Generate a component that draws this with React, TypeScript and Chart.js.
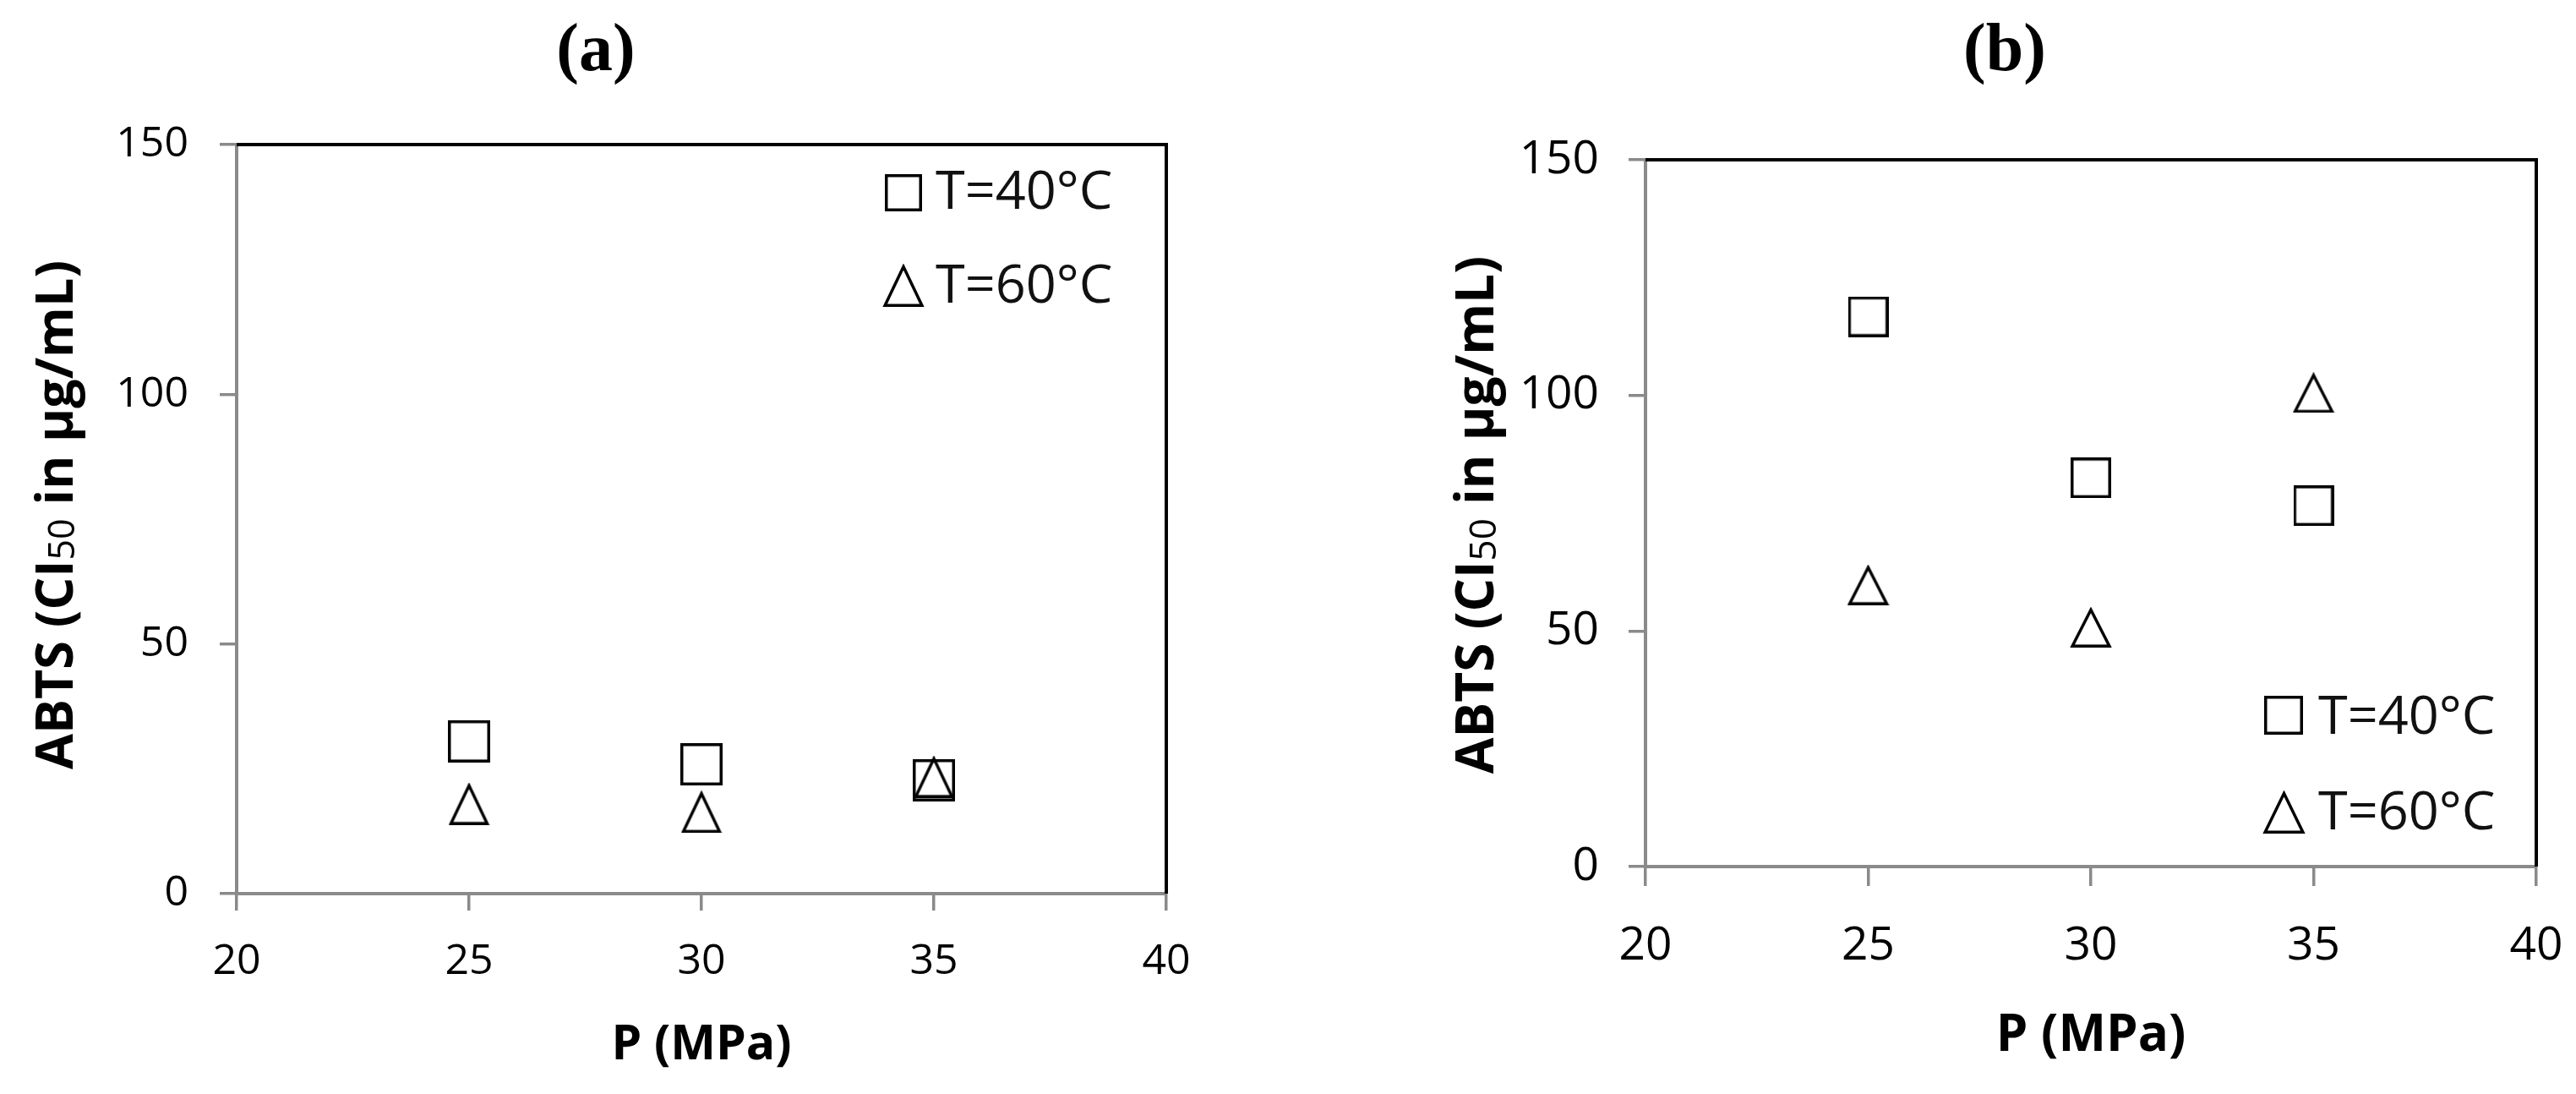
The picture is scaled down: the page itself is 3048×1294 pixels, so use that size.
import React, { useEffect, useRef } from 'react';
import { Chart, registerables } from 'chart.js';

Chart.register(...registerables);

// ---------------- data ----------------
const pressureMPa = [25, 30, 35];
const seriesLabels = ['T=40°C', 'T=60°C'];
const panelTitles = ['(a)', '(b)'];
const panelA_T40 = [30.5, 25.9, 22.7];
const panelA_T60 = [18.0, 16.4, 23.4];
const panelB_T40 = [116.7, 82.5, 76.6];
const panelB_T60 = [59.8, 50.8, 100.6];
const xTickValues = [20, 25, 30, 35, 40];
const yTickValues = [0, 50, 100, 150];
const xAxisTitle = 'P (MPa)';
// y-axis title in three runs: bold text, regular subscript "50", bold text
const yAxisTitleParts = ['ABTS (CI', '50', ' in µg/mL)'];

const SANS = "'Open Sans', 'DejaVu Sans', sans-serif";
const SERIF = "'Liberation Serif', 'Times New Roman', serif";
const AXIS_GRAY = '#8a8a8a';

function makeSquare(size: number, lw: number) {
  const c = document.createElement('canvas');
  c.width = size;
  c.height = size;
  const g = c.getContext('2d')!;
  g.strokeStyle = '#000';
  g.lineWidth = lw;
  g.strokeRect(lw / 2, lw / 2, size - lw, size - lw);
  return c;
}

function makeTriangle(w: number, h: number, lw: number) {
  const c = document.createElement('canvas');
  c.width = w;
  c.height = h;
  const g = c.getContext('2d')!;
  g.strokeStyle = '#000';
  g.lineWidth = lw;
  g.lineJoin = 'miter';
  g.beginPath();
  g.moveTo(lw * 0.9, h - lw / 2);
  g.lineTo(w - lw * 0.9, h - lw / 2);
  g.lineTo(w / 2, lw * 1.0);
  g.closePath();
  g.stroke();
  return c;
}

const framePlugin = {
  id: 'frame',
  beforeDatasetsDraw(chart: any) {
    const { ctx, chartArea } = chart;
    ctx.save();
    ctx.strokeStyle = '#000';
    ctx.lineWidth = 4;
    ctx.beginPath();
    ctx.moveTo(chartArea.left, chartArea.top);
    ctx.lineTo(chartArea.right, chartArea.top);
    ctx.lineTo(chartArea.right, chartArea.bottom);
    ctx.stroke();
    ctx.restore();
  },
};

const yTitlePlugin = {
  id: 'yTitle',
  afterDraw(chart: any, _args: any, opts: any) {
    const { ctx, chartArea } = chart;
    const S = opts.size;
    const sub = opts.subSize;
    const bold = `bold ${S}px ${SANS}`;
    const reg = `${sub}px ${SANS}`;
    const runs = [
      { t: yAxisTitleParts[0], f: bold, dy: 0 },
      { t: yAxisTitleParts[1], f: reg, dy: S * 0.04 },
      { t: yAxisTitleParts[2], f: bold, dy: 0 },
    ];
    ctx.save();
    let total = 0;
    const widths = runs.map((r) => {
      ctx.font = r.f;
      const w = ctx.measureText(r.t).width;
      total += w;
      return w;
    });
    const cy = (chartArea.top + chartArea.bottom) / 2 + opts.dy;
    ctx.translate(opts.x, cy);
    ctx.rotate(-Math.PI / 2);
    ctx.fillStyle = '#000';
    ctx.textAlign = 'left';
    ctx.textBaseline = 'alphabetic';
    let x = -total / 2;
    const base = S * 0.357;
    runs.forEach((r, i) => {
      ctx.font = r.f;
      ctx.fillText(r.t, x, base + r.dy);
      x += widths[i];
    });
    ctx.restore();
  },
};

const insideLegendPlugin = {
  id: 'insideLegend',
  afterDatasetsDraw(chart: any, _args: any, opts: any) {
    const { ctx, chartArea } = chart;
    ctx.save();
    ctx.font = `${opts.fontSize}px ${SANS}`;
    ctx.fillStyle = '#111';
    ctx.textAlign = 'left';
    ctx.textBaseline = 'alphabetic';
    const textLeft = chartArea.right - opts.textFromRight;
    chart.data.datasets.forEach((ds: any, i: number) => {
      const row = opts.rows[i];
      const base = opts.anchor === 'top' ? chartArea.top : chartArea.bottom;
      const cy = base + row.marker;
      const by = base + row.baseline;
      const img = opts.markers[i];
      const cx = textLeft - opts.markerGap;
      ctx.drawImage(img, Math.round(cx - img.width / 2), Math.round(cy - img.height / 2));
      ctx.fillText(ds.label, textLeft, by);
    });
    ctx.restore();
  },
};

type PanelSpec = {
  title: string;
  t40: number[];
  t60: number[];
  canvasLeft: number;
  canvasWidth: number;
  canvasHeight: number;
  padLeft: number;
  padRight: number;
  yScaleWidth: number;
  xScaleHeight: number;
  titlePadTop: number;
  titlePadBottom: number;
  tickFont: number;
  axisTitleFont: number;
  xTickLen: number;
  xTickPad: number;
  yTickPad: number;
  yTitle: { x: number; dy: number; size: number; subSize: number };
  xTitlePad: number;
  squareSize: number;
  triW: number;
  triH: number;
  legend: any;
};

const panelA: PanelSpec = {
  title: panelTitles[0],
  t40: panelA_T40,
  t60: panelA_T60,
  canvasLeft: 0,
  canvasWidth: 1420,
  canvasHeight: 1294,
  padLeft: 30,
  padRight: 40,
  yScaleWidth: 250,
  xScaleHeight: 237,
  titlePadTop: 14,
  titlePadBottom: 61,
  tickFont: 50,
  axisTitleFont: 57,
  xTickLen: 20,
  xTickPad: 31,
  yTickPad: 37,
  yTitle: { x: 64, dy: -5, size: 61, subSize: 43 },
  xTitlePad: 23,
  squareSize: 50,
  triW: 49,
  triH: 50,
  legend: {
    anchor: 'top',
    textFromRight: 273,
    markerGap: 38,
    fontSize: 63,
    rows: [
      { marker: 57, baseline: 76 },
      { marker: 166, baseline: 187 },
    ],
    sq: 44,
    triW: 50,
    triH: 51,
  },
};

const panelB: PanelSpec = {
  title: panelTitles[1],
  t40: panelB_T40,
  t60: panelB_T60,
  canvasLeft: 1690,
  canvasWidth: 1351,
  canvasHeight: 1294,
  padLeft: 53,
  padRight: 40,
  yScaleWidth: 204,
  xScaleHeight: 269,
  titlePadTop: 14,
  titlePadBottom: 79,
  tickFont: 55,
  axisTitleFont: 60,
  xTickLen: 23,
  xTickPad: 38,
  yTickPad: 35,
  yTitle: { x: 1745 - 1690, dy: 2, size: 62, subSize: 44 },
  xTitlePad: 32,
  squareSize: 48,
  triW: 50,
  triH: 48,
  legend: {
    anchor: 'bottom',
    textFromRight: 258,
    markerGap: 41,
    fontSize: 63,
    rows: [
      { marker: -179, baseline: -157 },
      { marker: -65, baseline: -44 },
    ],
    sq: 46,
    triW: 51,
    triH: 51,
  },
};

function buildChart(canvas: HTMLCanvasElement, p: PanelSpec) {
  const sq = makeSquare(p.squareSize, 3.5);
  const tri = makeTriangle(p.triW, p.triH, 3.5);
  const lsq = makeSquare(p.legend.sq, 3.5);
  const ltri = makeTriangle(p.legend.triW, p.legend.triH, 3.5);
  const tickColor = '#000';
  return new Chart(canvas, {
    type: 'scatter',
    data: {
      datasets: [
        {
          label: seriesLabels[0],
          data: pressureMPa.map((x, i) => ({ x, y: p.t40[i] })),
          pointStyle: sq as any,
          pointRadius: p.squareSize / 2,
          borderColor: '#000',
          backgroundColor: 'rgba(0,0,0,0)',
          showLine: false,
        },
        {
          label: seriesLabels[1],
          data: pressureMPa.map((x, i) => ({ x, y: p.t60[i] })),
          pointStyle: tri as any,
          pointRadius: p.triH / 2,
          borderColor: '#000',
          backgroundColor: 'rgba(0,0,0,0)',
          showLine: false,
        },
      ],
    },
    options: {
      responsive: false,
      animation: false,
      devicePixelRatio: 1,
      events: [],
      layout: { padding: { left: p.padLeft, right: p.padRight, top: 0, bottom: 0 } },
      plugins: {
        legend: { display: false },
        tooltip: { enabled: false },
        title: {
          display: true,
          text: p.title,
          color: '#000',
          font: { family: SERIF, weight: 'bold', size: 80, lineHeight: 1.2 },
          padding: { top: p.titlePadTop, bottom: p.titlePadBottom },
        },
        insideLegend: { ...p.legend, markers: [lsq, ltri] },
        yTitle: p.yTitle,
      } as any,
      scales: {
        x: {
          type: 'linear',
          min: xTickValues[0],
          max: xTickValues[xTickValues.length - 1],
          afterBuildTicks: (s: any) => {
            s.ticks = xTickValues.map((v) => ({ value: v }));
          },
          afterFit: (s: any) => {
            s.height = p.xScaleHeight;
            s.paddingLeft = 0;
            s.paddingRight = 0;
          },
          grid: {
            display: true,
            drawOnChartArea: false,
            drawTicks: true,
            tickLength: p.xTickLen,
            color: AXIS_GRAY,
            lineWidth: 3.5,
          },
          border: { display: true, color: AXIS_GRAY, width: 4 },
          ticks: {
            color: tickColor,
            font: { family: SANS, size: p.tickFont, lineHeight: 1.2 },
            padding: p.xTickPad,
            maxRotation: 0,
            autoSkip: false,
          },
          title: {
            display: true,
            text: xAxisTitle,
            color: '#000',
            font: { family: SANS, weight: 'bold', size: p.axisTitleFont, lineHeight: 1.2 },
            padding: { top: 0, bottom: p.xTitlePad },
          },
        },
        y: {
          type: 'linear',
          min: yTickValues[0],
          max: yTickValues[yTickValues.length - 1],
          afterBuildTicks: (s: any) => {
            s.ticks = yTickValues.map((v) => ({ value: v }));
          },
          afterFit: (s: any) => {
            s.width = p.yScaleWidth;
            s.paddingTop = 0;
            s.paddingBottom = 0;
          },
          grid: {
            display: true,
            drawOnChartArea: false,
            drawTicks: true,
            tickLength: 20,
            color: AXIS_GRAY,
            lineWidth: 3.5,
          },
          border: { display: true, color: AXIS_GRAY, width: 4 },
          ticks: {
            color: tickColor,
            font: { family: SANS, size: p.tickFont, lineHeight: 1.2 },
            padding: p.yTickPad,
            autoSkip: false,
          },
          title: { display: false },
        },
      },
    } as any,
    plugins: [framePlugin, insideLegendPlugin, yTitlePlugin],
  });
}

function PanelChart({ spec }: { spec: PanelSpec }) {
  const ref = useRef<HTMLCanvasElement | null>(null);
  useEffect(() => {
    if (!ref.current) return;
    const chart = buildChart(ref.current, spec);
    return () => chart.destroy();
  }, [spec]);
  return (
    <canvas
      ref={ref}
      width={spec.canvasWidth}
      height={spec.canvasHeight}
      style={{
        position: 'absolute',
        left: spec.canvasLeft,
        top: 0,
        width: spec.canvasWidth,
        height: spec.canvasHeight,
      }}
    />
  );
}

export default function App() {
  return (
    <div
      style={{
        position: 'absolute',
        left: 0,
        top: 0,
        width: 3048,
        height: 1294,
        background: '#fff',
        overflow: 'hidden',
      }}
    >
      <PanelChart spec={panelA} />
      <PanelChart spec={panelB} />
    </div>
  );
}
